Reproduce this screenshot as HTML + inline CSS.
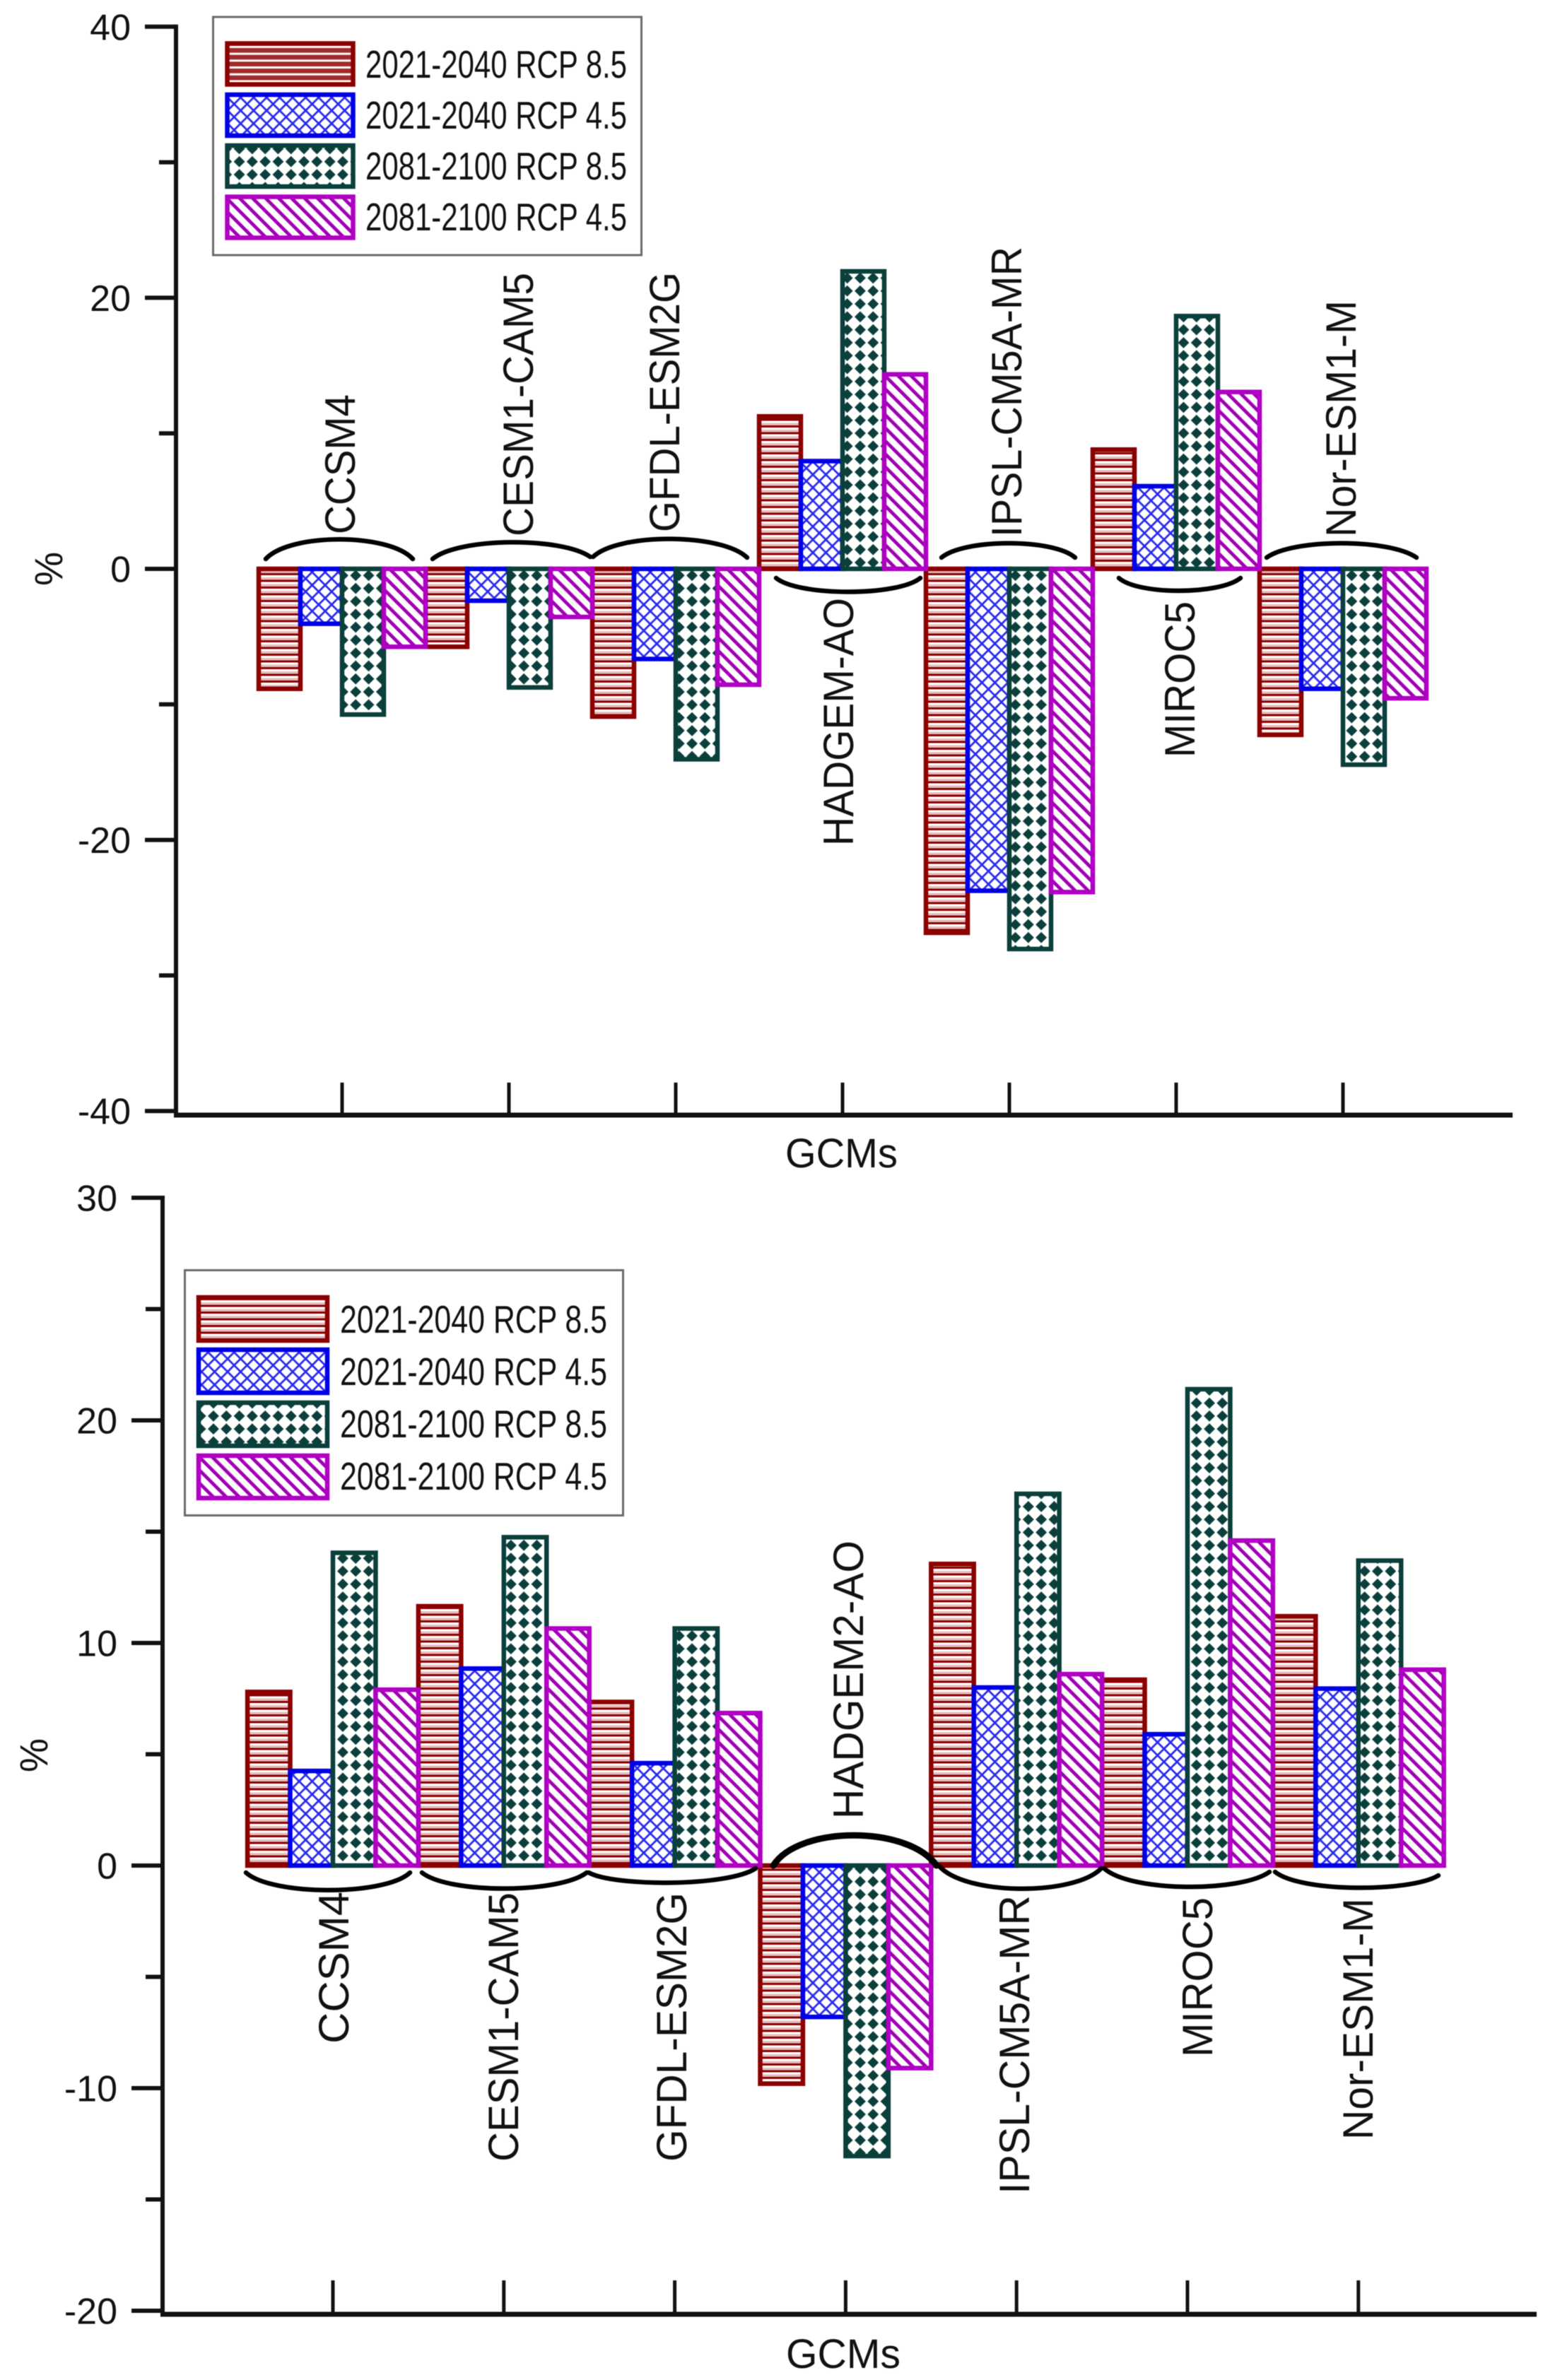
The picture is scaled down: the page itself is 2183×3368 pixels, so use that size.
<!DOCTYPE html>
<html>
<head>
<meta charset="utf-8">
<title>GCM projected change charts</title>
<style>
html,body{margin:0;padding:0;background:#fff;}
svg{display:block;filter:blur(0.6px);}
text{font-family:"Liberation Sans",sans-serif;fill:#111;}
</style>
</head>
<body>
<svg id="figure" xmlns="http://www.w3.org/2000/svg" width="2183" height="3368" viewBox="0 0 2183 3368">
<defs>
<pattern id="p-red" patternUnits="userSpaceOnUse" width="9.5" height="9.5">
<rect width="9.5" height="9.5" fill="#fff"/><rect y="0" width="9.5" height="3.5" fill="#e6bcbc"/><rect y="3.5" width="9.5" height="3" fill="#8b0000"/>
</pattern>
<pattern id="p-red-legend" patternUnits="userSpaceOnUse" width="9.7" height="9.7">
<rect width="9.7" height="9.7" fill="#fff"/><rect y="0" width="9.7" height="6.7" fill="#a32a2a"/>
</pattern>
<pattern id="p-blue" patternUnits="userSpaceOnUse" width="18.4" height="18.4">
<rect width="18.4" height="18.4" fill="#fff"/>
<path d="M0 0L18.4 18.4M0 18.4L18.4 0" stroke="#2a2aee" stroke-width="2.8" fill="none"/>
</pattern>
<pattern id="p-green" patternUnits="userSpaceOnUse" width="18.3" height="18.3">
<rect width="18.3" height="18.3" fill="#fff"/>
<polygon points="9.15,1.2 17.1,9.15 9.15,17.1 1.2,9.15" fill="#0a3f3c"/>
<circle cx="9.15" cy="9.15" r="5" fill="#0a3f3c"/>
</pattern>
<pattern id="p-mag" patternUnits="userSpaceOnUse" width="13" height="13" patternTransform="rotate(-45)">
<rect width="13" height="13" fill="#fff"/><rect width="4.8" height="13" fill="#a000b4"/>
</pattern>
</defs>

<g id="top-chart">
  <g id="top-bars"></g>
  <g id="top-axes"></g>
  <text transform="translate(88,829) rotate(-90)" font-size="56" textLength="48" lengthAdjust="spacingAndGlyphs">%</text>
  <text x="1111" y="1652" font-size="58" textLength="159" lengthAdjust="spacingAndGlyphs">GCMs</text>

  <g fill="none" stroke="#000" stroke-width="6.5" stroke-linecap="round">
    <path d="M376 791C410 754 550 754 584 791"/>
    <path d="M612 791C650 760 795 760 835 788"/>
    <path d="M839 788C875 754 1020 754 1057 789"/>
    <path d="M1098 818C1130 844 1270 844 1302 818"/>
    <path d="M1332 789C1365 762 1490 762 1521 789"/>
    <path d="M1583 818C1610 842 1725 842 1755 818"/>
    <path d="M1792 789C1830 762 1965 762 2004 789"/>
  </g>

  <g font-size="60">
    <text transform="translate(502,756) rotate(-90)" textLength="198" lengthAdjust="spacingAndGlyphs">CCSM4</text>
    <text transform="translate(754,759) rotate(-90)" textLength="373" lengthAdjust="spacingAndGlyphs">CESM1-CAM5</text>
    <text transform="translate(961,753) rotate(-90)" textLength="368" lengthAdjust="spacingAndGlyphs">GFDL-ESM2G</text>
    <text transform="translate(1207,1197) rotate(-90)" textLength="351" lengthAdjust="spacingAndGlyphs">HADGEM-AO</text>
    <text transform="translate(1445,760) rotate(-90)" textLength="411" lengthAdjust="spacingAndGlyphs">IPSL-CM5A-MR</text>
    <text transform="translate(1690,1072) rotate(-90)" textLength="221" lengthAdjust="spacingAndGlyphs">MIROC5</text>
    <text transform="translate(1918,760) rotate(-90)" textLength="335" lengthAdjust="spacingAndGlyphs">Nor-ESM1-M</text>
  </g>

  <g>
    <rect x="301.5" y="24" width="606" height="337" fill="#fff" stroke="#6a6a6a" stroke-width="3"/>
    <g>
      <rect x="321.5" y="61.5" width="178" height="58" fill="url(#p-red-legend)" stroke="#8b0000" stroke-width="6.5"/>
      <text x="517" y="110" font-size="55" textLength="370" lengthAdjust="spacingAndGlyphs">2021-2040 RCP 8.5</text>
    </g>
    <g>
      <rect x="321.5" y="134" width="178" height="58" fill="url(#p-blue)" stroke="#0000e6" stroke-width="6.5"/>
      <text x="517" y="182" font-size="55" textLength="370" lengthAdjust="spacingAndGlyphs">2021-2040 RCP 4.5</text>
    </g>
    <g>
      <rect x="321.5" y="206" width="178" height="58" fill="url(#p-green)" stroke="#0a3f3c" stroke-width="6.5"/>
      <text x="517" y="254" font-size="55" textLength="370" lengthAdjust="spacingAndGlyphs">2081-2100 RCP 8.5</text>
    </g>
    <g>
      <rect x="321.5" y="278.5" width="178" height="58" fill="url(#p-mag)" stroke="#b000c4" stroke-width="6.5"/>
      <text x="517" y="326" font-size="55" textLength="370" lengthAdjust="spacingAndGlyphs">2081-2100 RCP 4.5</text>
    </g>
  </g>
</g>

<g id="bottom-chart">
  <g id="bottom-bars"></g>
  <g id="bottom-axes"></g>
  <text transform="translate(67,2508) rotate(-90)" font-size="56" textLength="48" lengthAdjust="spacingAndGlyphs">%</text>
  <text x="1112" y="3351" font-size="58" textLength="162" lengthAdjust="spacingAndGlyphs">GCMs</text>

  <g fill="none" stroke="#000" stroke-width="6.5" stroke-linecap="round">
    <path d="M348 2650C385 2683 545 2683 580 2650"/>
    <path d="M597 2650C635 2680 790 2680 830 2650"/>
    <path d="M833 2650C870 2670 1030 2670 1069 2644"/>
    <path d="M1094 2640C1130 2583 1285 2583 1325 2640" stroke-width="9"/>
    <path d="M1328 2640C1365 2683 1520 2683 1558 2644"/>
    <path d="M1562 2644C1600 2678 1755 2678 1796 2649"/>
    <path d="M1804 2649C1840 2678 1995 2678 2035 2654"/>
  </g>

  <g font-size="60">
    <text transform="translate(493,2892) rotate(-90)" textLength="215" lengthAdjust="spacingAndGlyphs">CCSM4</text>
    <text transform="translate(733,3059) rotate(-90)" textLength="381" lengthAdjust="spacingAndGlyphs">CESM1-CAM5</text>
    <text transform="translate(971,3059) rotate(-90)" textLength="381" lengthAdjust="spacingAndGlyphs">GFDL-ESM2G</text>
    <text transform="translate(1221,2574) rotate(-90)" textLength="394" lengthAdjust="spacingAndGlyphs">HADGEM2-AO</text>
    <text transform="translate(1456,3105) rotate(-90)" textLength="423" lengthAdjust="spacingAndGlyphs">IPSL-CM5A-MR</text>
    <text transform="translate(1715,2911) rotate(-90)" textLength="226" lengthAdjust="spacingAndGlyphs">MIROC5</text>
    <text transform="translate(1942,3028) rotate(-90)" textLength="342" lengthAdjust="spacingAndGlyphs">Nor-ESM1-M</text>
  </g>

  <g>
    <rect x="261.5" y="1797.5" width="620" height="347" fill="#fff" stroke="#6a6a6a" stroke-width="3"/>
    <g>
      <rect x="281" y="1836" width="182" height="61" fill="url(#p-red)" stroke="#8b0000" stroke-width="6.5"/>
      <text x="481" y="1886" font-size="55" textLength="378" lengthAdjust="spacingAndGlyphs">2021-2040 RCP 8.5</text>
    </g>
    <g>
      <rect x="281" y="1910" width="182" height="61" fill="url(#p-blue)" stroke="#0000e6" stroke-width="6.5"/>
      <text x="481" y="1960" font-size="55" textLength="378" lengthAdjust="spacingAndGlyphs">2021-2040 RCP 4.5</text>
    </g>
    <g>
      <rect x="281" y="1985" width="182" height="61" fill="url(#p-green)" stroke="#0a3f3c" stroke-width="6.5"/>
      <text x="481" y="2034" font-size="55" textLength="378" lengthAdjust="spacingAndGlyphs">2081-2100 RCP 8.5</text>
    </g>
    <g>
      <rect x="281" y="2060" width="182" height="60" fill="url(#p-mag)" stroke="#b000c4" stroke-width="6.5"/>
      <text x="481" y="2108" font-size="55" textLength="378" lengthAdjust="spacingAndGlyphs">2081-2100 RCP 4.5</text>
    </g>
  </g>
</g>
</svg>

<script>
// ----- data -----
const topCategories = ["CCSM4","CESM1-CAM5","GFDL-ESM2G","HADGEM-AO","IPSL-CM5A-MR","MIROC5","Nor-ESM1-M"];
const topNear85 = [-8.85,-5.75,-10.9,11.25,-26.85,8.8,-12.25];
const topNear45 = [-4.05,-2.35,-6.65,7.95,-23.75,6.1,-8.85];
const topFar85 = [-10.75,-8.75,-14.05,21.95,-28.05,18.65,-14.45];
const topFar45 = [-5.75,-3.55,-8.55,14.35,-23.85,13.05,-9.55];
const topMajorTicks = [40,20,0,-20,-40];
const topMinorTicks = [30,10,-10,-30];

const bottomCategories = ["CCSM4","CESM1-CAM5","GFDL-ESM2G","HADGEM2-AO","IPSL-CM5A-MR","MIROC5","Nor-ESM1-M"];
const bottomNear85 = [7.8,11.65,7.35,-9.8,13.55,8.35,11.2];
const bottomNear45 = [4.25,8.85,4.6,-6.8,8.0,5.9,7.95];
const bottomFar85 = [14.05,14.75,10.65,-13.05,16.7,21.4,13.7];
const bottomFar45 = [7.9,10.65,6.85,-9.1,8.6,14.6,8.8];
const bottomMajorTicks = [30,20,10,0,-10,-20];
const bottomMinorTicks = [25,15,5,-5,-15];

// ----- styling of the four series -----
const seriesFill = ["url(#p-red)","url(#p-blue)","url(#p-green)","url(#p-mag)"];
const seriesStroke = ["#8b0000","#0000e6","#0a3f3c","#b000c4"];
const seriesSlug = ["2021-2040-rcp85","2021-2040-rcp45","2081-2100-rcp85","2081-2100-rcp45"];

const NS = "http://www.w3.org/2000/svg";
function make(tag, attrs, parent){
  const el = document.createElementNS(NS, tag);
  for (const k in attrs) el.setAttribute(k, attrs[k]);
  parent.appendChild(el);
  return el;
}

function drawPanel(cfg){
  const yScale = v => cfg.yZero - v * cfg.yUnit;
  const xScale = i => cfg.xFirst + i * cfg.xStep;
  const barW = cfg.xStep / 4;
  const barsG = document.getElementById(cfg.prefix + "-bars");
  const axesG = document.getElementById(cfg.prefix + "-axes");

  // bars are drawn series by series
  cfg.series.forEach((vals, s) => {
    vals.forEach((v, i) => {
      const y0 = yScale(0), y1 = yScale(v);
      const r = make("rect", {
        x: xScale(i) + (s - 2) * barW,
        y: Math.min(y0, y1),
        width: barW,
        height: Math.abs(y1 - y0),
        fill: seriesFill[s],
        stroke: seriesStroke[s],
        "stroke-width": 6.5
      }, barsG);
      
      
    });
  });

  // y axis
  const yAxis = make("line", {x1: cfg.axisX, x2: cfg.axisX, y1: yScale(cfg.yMax) - 3, y2: cfg.xAxisY + 3, stroke: "#111", "stroke-width": 6}, axesG);
  
  

  // x axis
  const xAxis = make("line", {x1: cfg.axisX - 3, x2: cfg.axisEnd, y1: cfg.xAxisY, y2: cfg.xAxisY, stroke: "#111", "stroke-width": 7}, axesG);
  
  

  cfg.majors.forEach(t => {
    const tick = make("line", {x1: cfg.axisX - 44, x2: cfg.axisX, y1: yScale(t), y2: yScale(t), stroke: "#111", "stroke-width": 6}, axesG);
    
    
    const label = make("text", {x: cfg.axisX - 64, y: yScale(t) + 18.5, "font-size": 52, "text-anchor": "end"}, axesG);
    label.textContent = String(t);
    
    
  });
  cfg.minors.forEach(t => {
    const tick = make("line", {x1: cfg.axisX - 24, x2: cfg.axisX, y1: yScale(t), y2: yScale(t), stroke: "#111", "stroke-width": 6}, axesG);
    
    
  });
  cfg.categories.forEach((c, i) => {
    const tick = make("line", {x1: xScale(i), x2: xScale(i), y1: cfg.xAxisY - cfg.xTickLen, y2: cfg.xAxisY, stroke: "#111", "stroke-width": 5}, axesG);
    
    
  });
}

drawPanel({
  prefix: "top",
  categories: topCategories,
  series: [topNear85, topNear45, topFar85, topFar45],
  majors: topMajorTicks,
  minors: topMinorTicks,
  yMax: 40,
  yZero: 805,
  yUnit: 19.18,
  xFirst: 484,
  xStep: 236,
  axisX: 249,
  axisEnd: 2140,
  xAxisY: 1578,
  xTickLen: 46
});

drawPanel({
  prefix: "bottom",
  categories: bottomCategories,
  series: [bottomNear85, bottomNear45, bottomFar85, bottomFar45],
  majors: bottomMajorTicks,
  minors: bottomMinorTicks,
  yMax: 30,
  yZero: 2640,
  yUnit: 31.5,
  xFirst: 471,
  xStep: 241.8,
  axisX: 230,
  axisEnd: 2174,
  xAxisY: 3275,
  xTickLen: 48
});
</script>
</body>
</html>
